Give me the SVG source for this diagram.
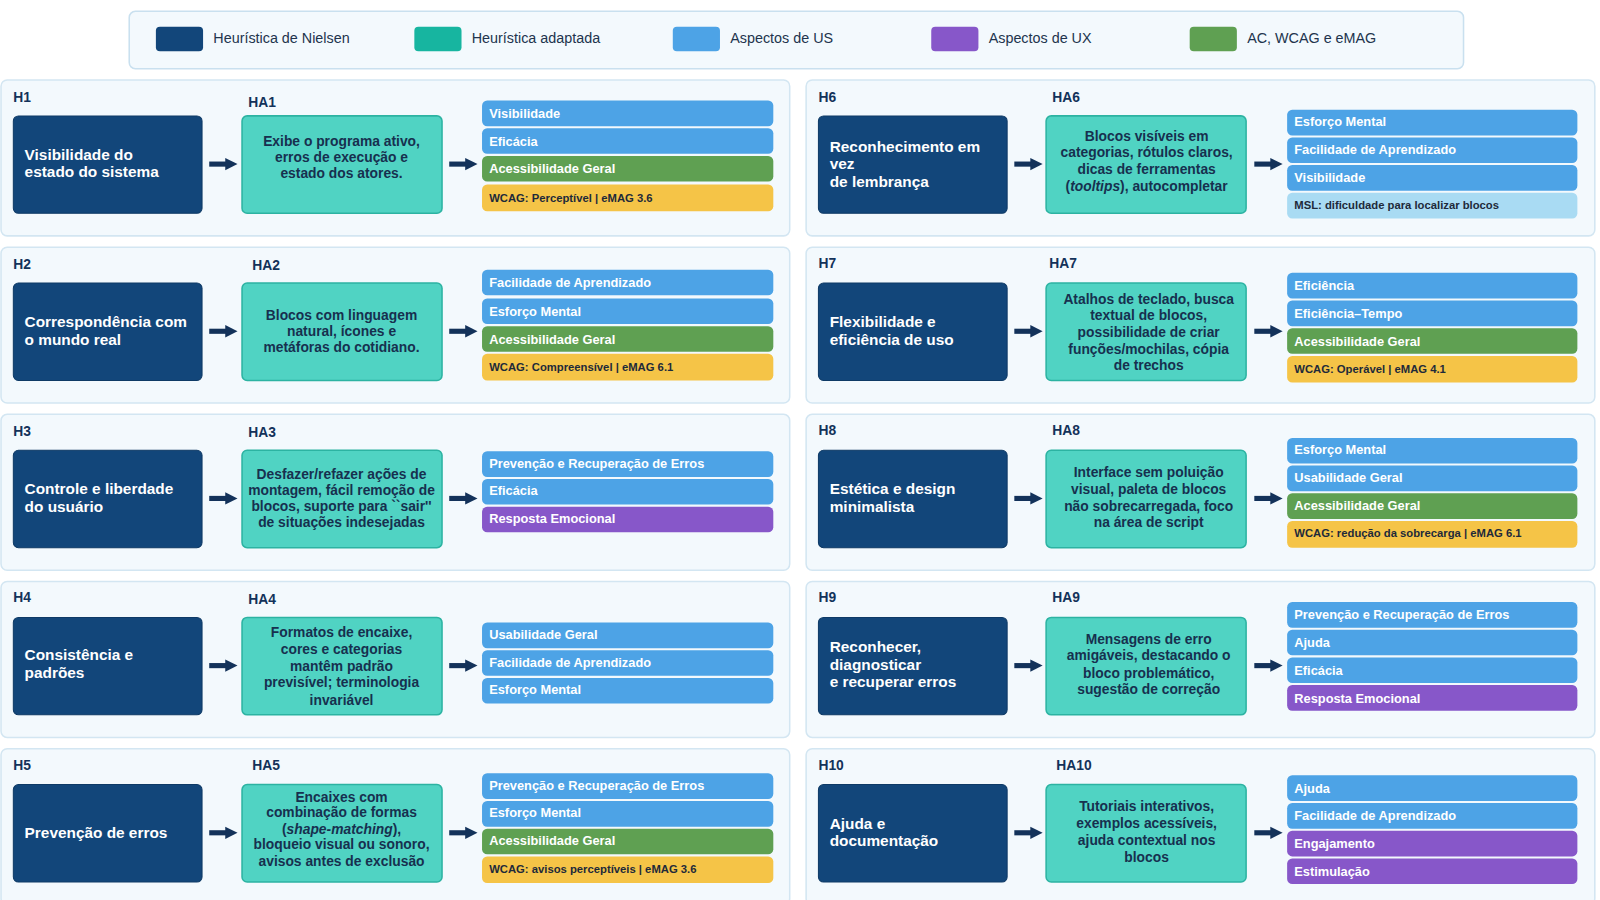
<svg xmlns="http://www.w3.org/2000/svg" width="1600" height="900" viewBox="0 0 1600 900">
<style>
text{font-family:"Liberation Sans",Arial,sans-serif}
.panel{fill:#f3f9fd;stroke:#d3e6f2;stroke-width:1.5}
.lbl{font-size:13.5px;font-weight:bold;fill:#13325a}
.h{fill:#12467a;stroke:#0e3a66}
.ha{fill:#50d3c3;stroke:#2cb3a2;stroke-width:1.5}
.ht{font-size:15px;font-weight:bold;fill:#fff}
.hat{font-size:13.5px;font-weight:bold;fill:#17304f;text-anchor:middle}
.b{fill:#4da3e6}.g{fill:#5fa052}.y{fill:#f5c447}.p{fill:#8757c9}.l{fill:#a9dbf3}
.bt{font-size:12.5px;font-weight:bold;fill:#fff}
.yt{font-size:11px;font-weight:bold;fill:#1e2a3a}
.con line{stroke:#13325a;stroke-width:5;marker-end:url(#ah)}
.leg{font-size:14px;fill:#22344d}
</style>
<defs><marker id="ah" viewBox="0 0 10 10" refX="2" refY="5" markerWidth="2.4" markerHeight="2.8" orient="auto" markerUnits="strokeWidth"><path d="M0,0L10,5L0,10z" fill="#13325a"/></marker></defs>
<rect width="1600" height="900" fill="#fff"/>
<g transform="scale(1.0256)">
<g id="legend">
<rect x="126" y="11" width="1301" height="56" rx="6" fill="#f3f9fd" stroke="#c9e0ef" stroke-width="1.5"/>
<rect x="152" y="26" width="46" height="24" rx="4" fill="#12467a"/><text class="leg" x="208" y="42">Heurística de Nielsen</text>
<rect x="404" y="26" width="46" height="24" rx="4" fill="#17b5a0"/><text class="leg" x="460" y="42">Heurística adaptada</text>
<rect x="656" y="26" width="46" height="24" rx="4" fill="#4da3e6"/><text class="leg" x="712" y="42">Aspectos de US</text>
<rect x="908" y="26" width="46" height="24" rx="4" fill="#8757c9"/><text class="leg" x="964" y="42">Aspectos de UX</text>
<rect x="1160" y="26" width="46" height="24" rx="4" fill="#5fa052"/><text class="leg" x="1216" y="42">AC, WCAG e eMAG</text>
</g>
<g id="panels">
<rect class="panel" x="1" y="78" width="769" height="152" rx="6"/><rect class="panel" x="786" y="78" width="769" height="152" rx="6"/>
<rect class="panel" x="1" y="241" width="769" height="152" rx="6"/><rect class="panel" x="786" y="241" width="769" height="152" rx="6"/>
<rect class="panel" x="1" y="404" width="769" height="152" rx="6"/><rect class="panel" x="786" y="404" width="769" height="152" rx="6"/>
<rect class="panel" x="1" y="567" width="769" height="152" rx="6"/><rect class="panel" x="786" y="567" width="769" height="152" rx="6"/>
<rect class="panel" x="1" y="730" width="769" height="152" rx="6"/><rect class="panel" x="786" y="730" width="769" height="152" rx="6"/>
</g>
<g id="connectors" class="con">
<line x1="204" y1="160" x2="222" y2="160"/><line x1="438" y1="160" x2="456" y2="160"/>
<line x1="989" y1="160" x2="1007" y2="160"/><line x1="1223" y1="160" x2="1241" y2="160"/>
<line x1="204" y1="323" x2="222" y2="323"/><line x1="438" y1="323" x2="456" y2="323"/>
<line x1="989" y1="323" x2="1007" y2="323"/><line x1="1223" y1="323" x2="1241" y2="323"/>
<line x1="204" y1="486" x2="222" y2="486"/><line x1="438" y1="486" x2="456" y2="486"/>
<line x1="989" y1="486" x2="1007" y2="486"/><line x1="1223" y1="486" x2="1241" y2="486"/>
<line x1="204" y1="649" x2="222" y2="649"/><line x1="438" y1="649" x2="456" y2="649"/>
<line x1="989" y1="649" x2="1007" y2="649"/><line x1="1223" y1="649" x2="1241" y2="649"/>
<line x1="204" y1="812" x2="222" y2="812"/><line x1="438" y1="812" x2="456" y2="812"/>
<line x1="989" y1="812" x2="1007" y2="812"/><line x1="1223" y1="812" x2="1241" y2="812"/>
</g>

<g id="H1"><text class="lbl" x="13" y="99">H1</text><rect class="h" x="13" y="113" width="184" height="95" rx="5"/><text class="ht" x="24" y="156">Visibilidade do</text><text class="ht" x="24" y="173">estado do sistema</text></g>
<g id="HA1"><text class="lbl" x="242" y="104">HA1</text><rect class="ha" x="236" y="113" width="195" height="95" rx="5"/><text class="hat" x="333" y="142">Exibe o programa ativo,</text><text class="hat" x="333" y="158">erros de execução e</text><text class="hat" x="333" y="174">estado dos atores.</text></g>
<g id="A1"><rect class="b" x="470" y="98" width="284" height="25" rx="5"/><text class="bt" x="477" y="115">Visibilidade</text><rect class="b" x="470" y="125" width="284" height="25" rx="5"/><text class="bt" x="477" y="142">Eficácia</text><rect class="g" x="470" y="152" width="284" height="25" rx="5"/><text class="bt" x="477" y="169">Acessibilidade Geral</text><rect class="y" x="470" y="180" width="284" height="26" rx="5"/><text class="yt" x="477" y="197">WCAG: Perceptível | eMAG 3.6</text></g>

<g id="H2"><text class="lbl" x="13" y="262">H2</text><rect class="h" x="13" y="276" width="184" height="95" rx="5"/><text class="ht" x="24" y="319">Correspondência com</text><text class="ht" x="24" y="336">o mundo real</text></g>
<g id="HA2"><text class="lbl" x="246" y="263">HA2</text><rect class="ha" x="236" y="276" width="195" height="95" rx="5"/><text class="hat" x="333" y="312">Blocos com linguagem</text><text class="hat" x="333" y="328">natural, ícones e</text><text class="hat" x="333" y="343">metáforas do cotidiano.</text></g>
<g id="A2"><rect class="b" x="470" y="263" width="284" height="25" rx="5"/><text class="bt" x="477" y="280">Facilidade de Aprendizado</text><rect class="b" x="470" y="291" width="284" height="25" rx="5"/><text class="bt" x="477" y="308">Esforço Mental</text><rect class="g" x="470" y="318" width="284" height="25" rx="5"/><text class="bt" x="477" y="335">Acessibilidade Geral</text><rect class="y" x="470" y="345" width="284" height="26" rx="5"/><text class="yt" x="477" y="362">WCAG: Compreensível | eMAG 6.1</text></g>

<g id="H3"><text class="lbl" x="13" y="425">H3</text><rect class="h" x="13" y="439" width="184" height="95" rx="5"/><text class="ht" x="24" y="482">Controle e liberdade</text><text class="ht" x="24" y="499">do usuário</text></g>
<g id="HA3"><text class="lbl" x="242" y="426">HA3</text><rect class="ha" x="236" y="439" width="195" height="95" rx="5"/><text class="hat" x="333" y="467">Desfazer/refazer ações de</text><text class="hat" x="333" y="483">montagem, fácil remoção de</text><text class="hat" x="333" y="498">blocos, suporte para ``sair''</text><text class="hat" x="333" y="514">de situações indesejadas</text></g>
<g id="A3"><rect class="b" x="470" y="440" width="284" height="25" rx="5"/><text class="bt" x="477" y="456">Prevenção e Recuperação de Erros</text><rect class="b" x="470" y="467" width="284" height="25" rx="5"/><text class="bt" x="477" y="483">Eficácia</text><rect class="p" x="470" y="494" width="284" height="25" rx="5"/><text class="bt" x="477" y="510">Resposta Emocional</text></g>

<g id="H4"><text class="lbl" x="13" y="587">H4</text><rect class="h" x="13" y="602" width="184" height="95" rx="5"/><text class="ht" x="24" y="644">Consistência e</text><text class="ht" x="24" y="661">padrões</text></g>
<g id="HA4"><text class="lbl" x="242" y="589">HA4</text><rect class="ha" x="236" y="602" width="195" height="95" rx="5"/><text class="hat" x="333" y="621">Formatos de encaixe,</text><text class="hat" x="333" y="638">cores e categorias</text><text class="hat" x="333" y="654">mantêm padrão</text><text class="hat" x="333" y="670">previsível; terminologia</text><text class="hat" x="333" y="687">invariável</text></g>
<g id="A4"><rect class="b" x="470" y="607" width="284" height="25" rx="5"/><text class="bt" x="477" y="623">Usabilidade Geral</text><rect class="b" x="470" y="634" width="284" height="25" rx="5"/><text class="bt" x="477" y="650">Facilidade de Aprendizado</text><rect class="b" x="470" y="661" width="284" height="25" rx="5"/><text class="bt" x="477" y="677">Esforço Mental</text></g>

<g id="H5"><text class="lbl" x="13" y="751">H5</text><rect class="h" x="13" y="765" width="184" height="95" rx="5"/><text class="ht" x="24" y="817">Prevenção de erros</text></g>
<g id="HA5"><text class="lbl" x="246" y="751">HA5</text><rect class="ha" x="236" y="765" width="195" height="95" rx="5"/><text class="hat" x="333" y="782">Encaixes com</text><text class="hat" x="333" y="797">combinação de formas</text><text class="hat" x="333" y="813">(<tspan font-style="italic">shape-matching</tspan>),</text><text class="hat" x="333" y="828">bloqueio visual ou sonoro,</text><text class="hat" x="333" y="844">avisos antes de exclusão</text></g>
<g id="A5"><rect class="b" x="470" y="754" width="284" height="25" rx="5"/><text class="bt" x="477" y="770">Prevenção e Recuperação de Erros</text><rect class="b" x="470" y="781" width="284" height="25" rx="5"/><text class="bt" x="477" y="797">Esforço Mental</text><rect class="g" x="470" y="808" width="284" height="25" rx="5"/><text class="bt" x="477" y="824">Acessibilidade Geral</text><rect class="y" x="470" y="835" width="284" height="26" rx="5"/><text class="yt" x="477" y="851">WCAG: avisos perceptíveis | eMAG 3.6</text></g>

<g id="H6"><text class="lbl" x="798" y="99">H6</text><rect class="h" x="798" y="113" width="184" height="95" rx="5"/><text class="ht" x="809" y="148">Reconhecimento em</text><text class="ht" x="809" y="165">vez</text><text class="ht" x="809" y="182">de lembrança</text></g>
<g id="HA6"><text class="lbl" x="1026" y="99">HA6</text><rect class="ha" x="1020" y="113" width="195" height="95" rx="5"/><text class="hat" x="1118" y="137">Blocos visíveis em</text><text class="hat" x="1118" y="153">categorias, rótulos claros,</text><text class="hat" x="1118" y="170">dicas de ferramentas</text><text class="hat" x="1118" y="186">(<tspan font-style="italic">tooltips</tspan>), autocompletar</text></g>
<g id="A6"><rect class="b" x="1255" y="107" width="283" height="25" rx="5"/><text class="bt" x="1262" y="123">Esforço Mental</text><rect class="b" x="1255" y="134" width="283" height="25" rx="5"/><text class="bt" x="1262" y="150">Facilidade de Aprendizado</text><rect class="b" x="1255" y="161" width="283" height="25" rx="5"/><text class="bt" x="1262" y="177">Visibilidade</text><rect class="l" x="1255" y="188" width="283" height="25" rx="5"/><text class="yt" x="1262" y="204">MSL: dificuldade para localizar blocos</text></g>

<g id="H7"><text class="lbl" x="798" y="261">H7</text><rect class="h" x="798" y="276" width="184" height="95" rx="5"/><text class="ht" x="809" y="319">Flexibilidade e</text><text class="ht" x="809" y="336">eficiência de uso</text></g>
<g id="HA7"><text class="lbl" x="1023" y="261">HA7</text><rect class="ha" x="1020" y="276" width="195" height="95" rx="5"/><text class="hat" x="1120" y="296">Atalhos de teclado, busca</text><text class="hat" x="1120" y="312">textual de blocos,</text><text class="hat" x="1120" y="329">possibilidade de criar</text><text class="hat" x="1120" y="345">funções/mochilas, cópia</text><text class="hat" x="1120" y="361">de trechos</text></g>
<g id="A7"><rect class="b" x="1255" y="266" width="283" height="25" rx="5"/><text class="bt" x="1262" y="283">Eficiência</text><rect class="b" x="1255" y="293" width="283" height="25" rx="5"/><text class="bt" x="1262" y="310">Eficiência–Tempo</text><rect class="g" x="1255" y="320" width="283" height="25" rx="5"/><text class="bt" x="1262" y="337">Acessibilidade Geral</text><rect class="y" x="1255" y="347" width="283" height="26" rx="5"/><text class="yt" x="1262" y="364">WCAG: Operável | eMAG 4.1</text></g>

<g id="H8"><text class="lbl" x="798" y="424">H8</text><rect class="h" x="798" y="439" width="184" height="95" rx="5"/><text class="ht" x="809" y="482">Estética e design</text><text class="ht" x="809" y="499">minimalista</text></g>
<g id="HA8"><text class="lbl" x="1026" y="424">HA8</text><rect class="ha" x="1020" y="439" width="195" height="95" rx="5"/><text class="hat" x="1120" y="465">Interface sem poluição</text><text class="hat" x="1120" y="482">visual, paleta de blocos</text><text class="hat" x="1120" y="498">não sobrecarregada, foco</text><text class="hat" x="1120" y="514">na área de script</text></g>
<g id="A8"><rect class="b" x="1255" y="427" width="283" height="25" rx="5"/><text class="bt" x="1262" y="443">Esforço Mental</text><rect class="b" x="1255" y="454" width="283" height="25" rx="5"/><text class="bt" x="1262" y="470">Usabilidade Geral</text><rect class="g" x="1255" y="481" width="283" height="25" rx="5"/><text class="bt" x="1262" y="497">Acessibilidade Geral</text><rect class="y" x="1255" y="508" width="283" height="26" rx="5"/><text class="yt" x="1262" y="524">WCAG: redução da sobrecarga | eMAG 6.1</text></g>

<g id="H9"><text class="lbl" x="798" y="587">H9</text><rect class="h" x="798" y="602" width="184" height="95" rx="5"/><text class="ht" x="809" y="636">Reconhecer,</text><text class="ht" x="809" y="653">diagnosticar</text><text class="ht" x="809" y="670">e recuperar erros</text></g>
<g id="HA9"><text class="lbl" x="1026" y="587">HA9</text><rect class="ha" x="1020" y="602" width="195" height="95" rx="5"/><text class="hat" x="1120" y="628">Mensagens de erro</text><text class="hat" x="1120" y="644">amigáveis, destacando o</text><text class="hat" x="1120" y="661">bloco problemático,</text><text class="hat" x="1120" y="677">sugestão de correção</text></g>
<g id="A9"><rect class="b" x="1255" y="587" width="283" height="25" rx="5"/><text class="bt" x="1262" y="604">Prevenção e Recuperação de Erros</text><rect class="b" x="1255" y="614" width="283" height="25" rx="5"/><text class="bt" x="1262" y="631">Ajuda</text><rect class="b" x="1255" y="641" width="283" height="25" rx="5"/><text class="bt" x="1262" y="658">Eficácia</text><rect class="p" x="1255" y="668" width="283" height="25" rx="5"/><text class="bt" x="1262" y="685">Resposta Emocional</text></g>

<g id="H10"><text class="lbl" x="798" y="751">H10</text><rect class="h" x="798" y="765" width="184" height="95" rx="5"/><text class="ht" x="809" y="808">Ajuda e</text><text class="ht" x="809" y="825">documentação</text></g>
<g id="HA10"><text class="lbl" x="1030" y="751">HA10</text><rect class="ha" x="1020" y="765" width="195" height="95" rx="5"/><text class="hat" x="1118" y="791">Tutoriais interativos,</text><text class="hat" x="1118" y="807">exemplos acessíveis,</text><text class="hat" x="1118" y="824">ajuda contextual nos</text><text class="hat" x="1118" y="840">blocos</text></g>
<g id="A10"><rect class="b" x="1255" y="756" width="283" height="25" rx="5"/><text class="bt" x="1262" y="773">Ajuda</text><rect class="b" x="1255" y="783" width="283" height="25" rx="5"/><text class="bt" x="1262" y="800">Facilidade de Aprendizado</text><rect class="p" x="1255" y="810" width="283" height="25" rx="5"/><text class="bt" x="1262" y="827">Engajamento</text><rect class="p" x="1255" y="837" width="283" height="25" rx="5"/><text class="bt" x="1262" y="854">Estimulação</text></g>
</g>
</svg>
